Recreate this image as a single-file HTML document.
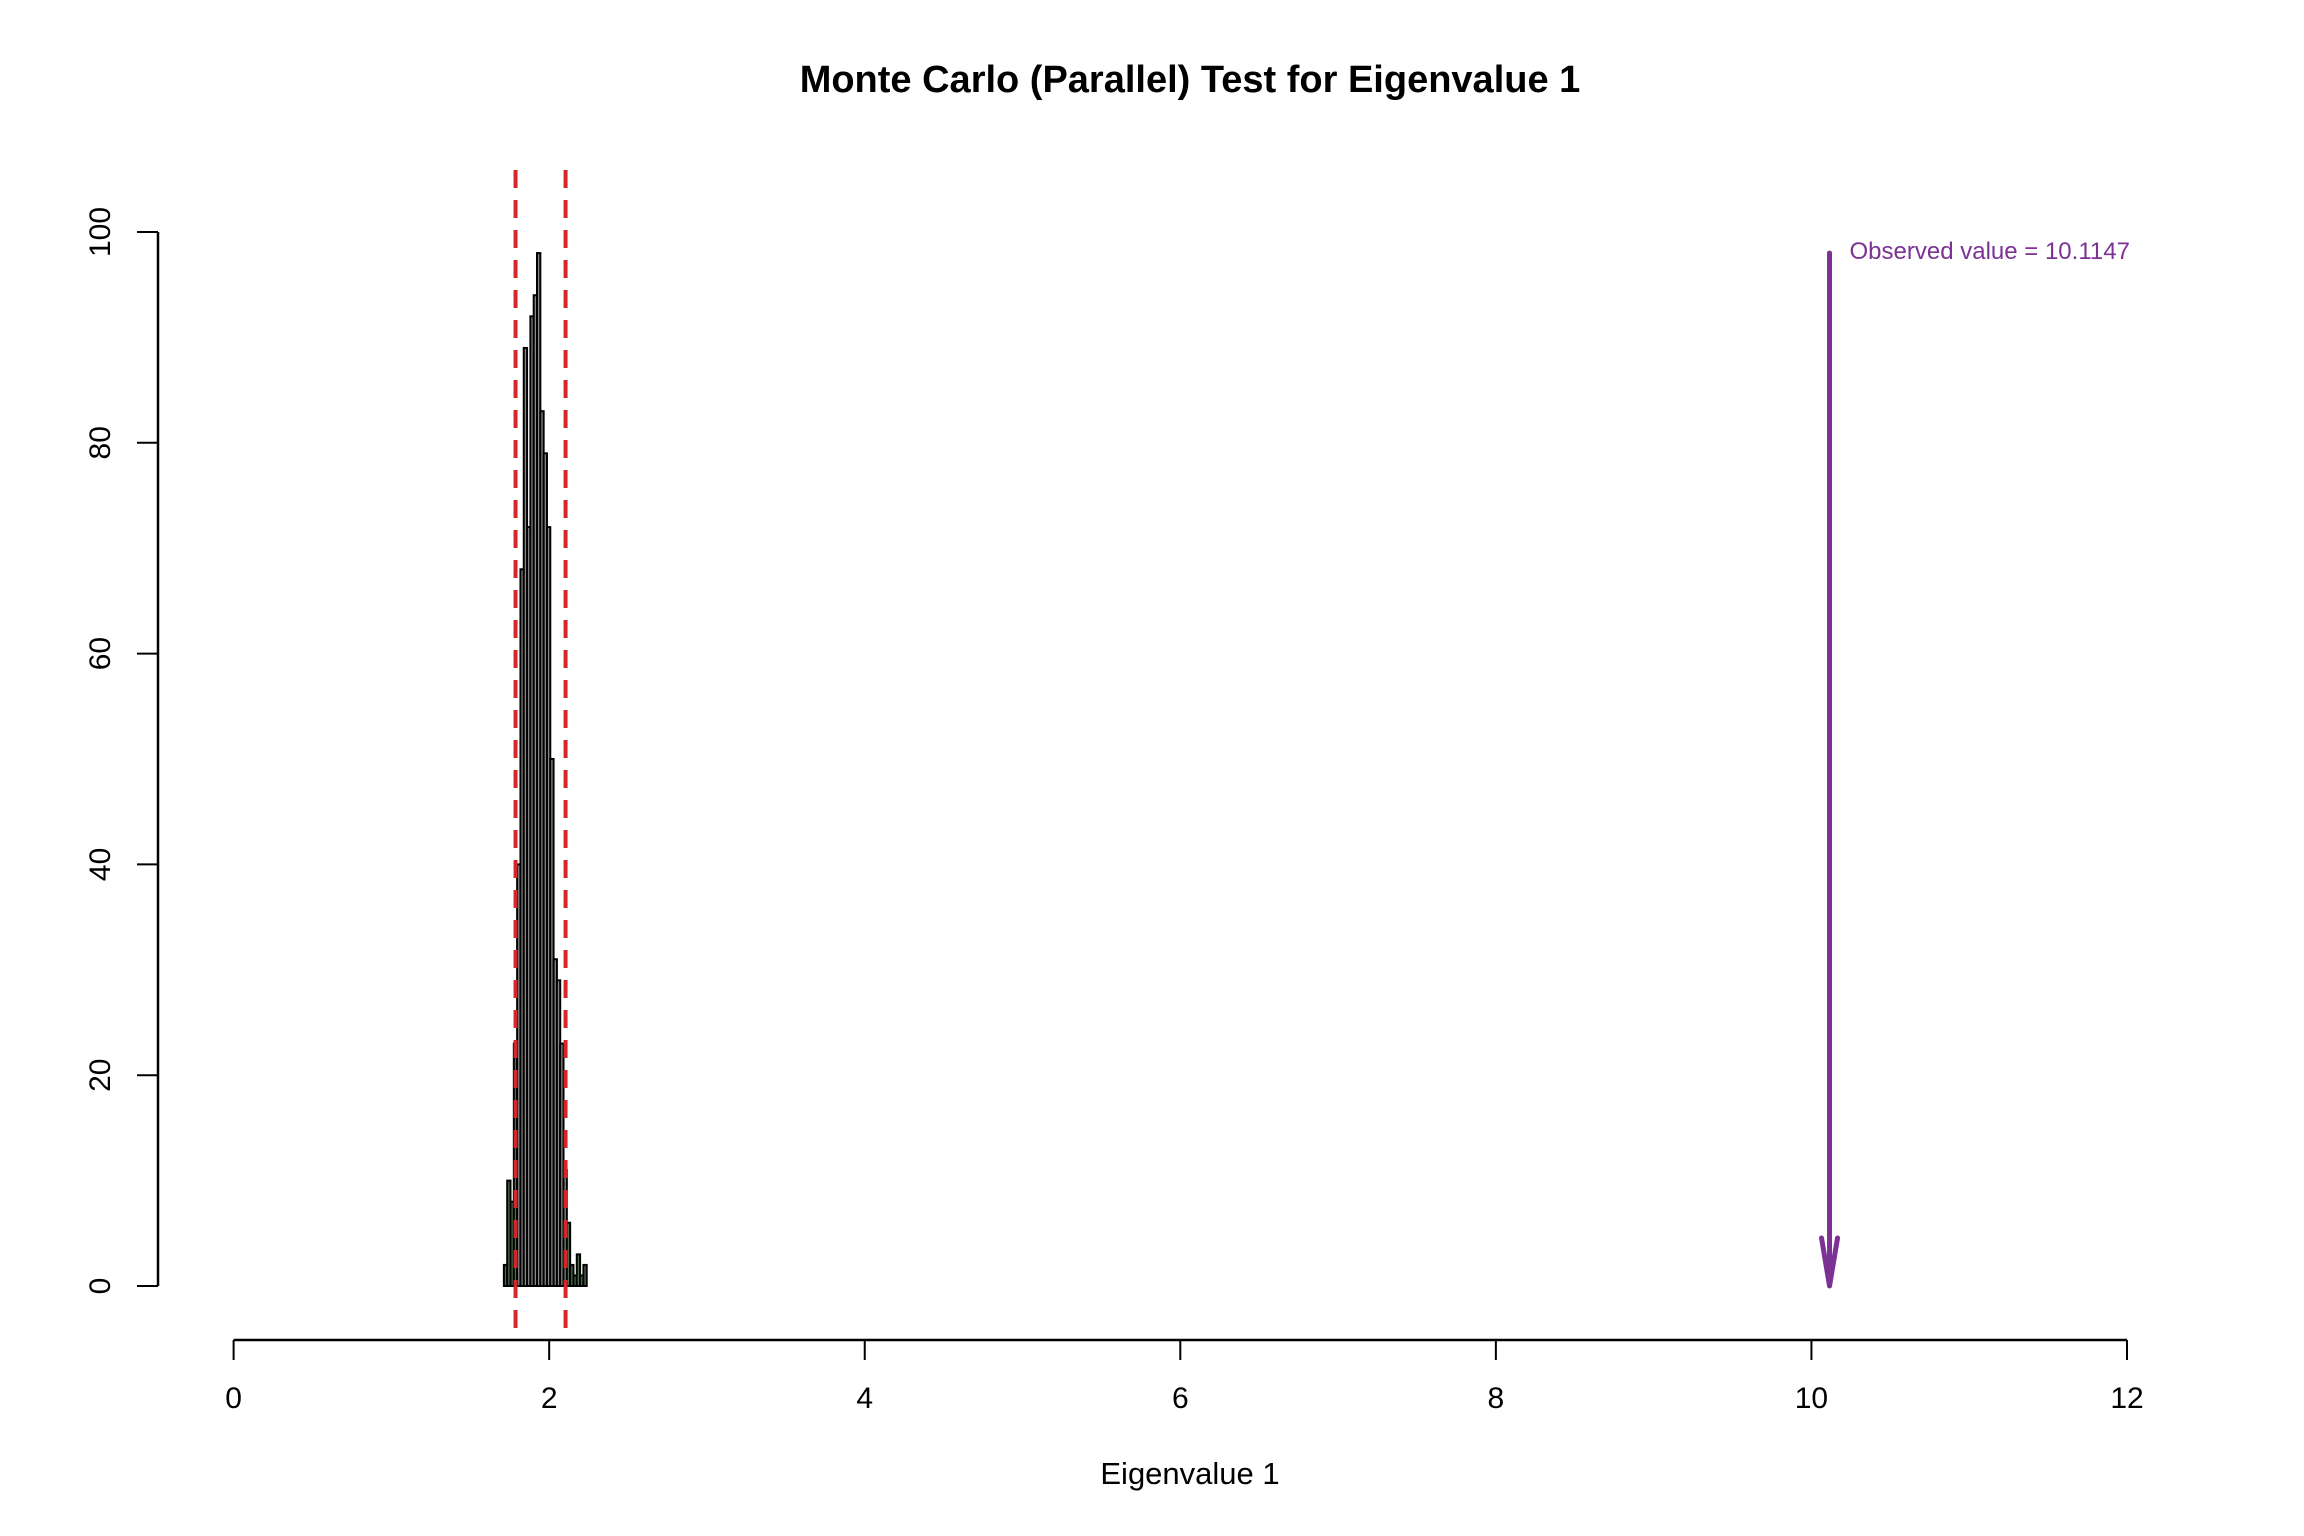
<!DOCTYPE html>
<html><head><meta charset="utf-8"><style>
html,body{margin:0;padding:0;background:#fff;}
svg{display:block;font-family:"Liberation Sans",Arial,sans-serif;}
</style></head><body>
<svg id="chart" width="2304" height="1536" viewBox="0 0 2304 1536" xmlns="http://www.w3.org/2000/svg">
<rect width="2304" height="1536" fill="#fff"/>
<text x="1190" y="92" text-anchor="middle" font-size="38" font-weight="bold">Monte Carlo (Parallel) Test for Eigenvalue 1</text>
<text x="1190" y="1484" text-anchor="middle" font-size="31">Eigenvalue 1</text>
<g id="xaxis"></g>
<g id="yaxis"></g>
<g id="bars"></g>
<g id="marks"></g>
</svg>
<script>
const binStart = 1.713;
const binWidth = 0.021;
const counts = [2,10,8,23,40,68,89,72,92,94,98,83,79,72,50,31,29,23,11,6,2,1,3,1,2];
const xTicks = [0,2,4,6,8,10,12];
const yTicks = [0,20,40,60,80,100];
const ciBounds = [1.787, 2.104];
const observed = 10.1147;

const NS = "http://www.w3.org/2000/svg";
const X0 = 233.6, X1 = 2127, Y0 = 1286, Y1 = 232;
function sx(v){ return X0 + (v/12)*(X1-X0); }
function sy(v){ return Y0 - (v/100)*(Y0-Y1); }
function mk(tag, attrs, parent){
  const e = document.createElementNS(NS, tag);
  for (const k in attrs) e.setAttribute(k, attrs[k]);
  parent.appendChild(e); return e;
}
const xa = document.getElementById('xaxis');
const ya = document.getElementById('yaxis');
const bars = document.getElementById('bars');
const marks = document.getElementById('marks');

const xl = mk('line', {x1:sx(0), x2:sx(12), y1:1340, y2:1340, stroke:'#000', 'stroke-width':2.5}, xa);


xTicks.forEach(t => {
  const tk = mk('line', {x1:sx(t), x2:sx(t), y1:1340, y2:1360, stroke:'#000', 'stroke-width':2}, xa);
  
  
  const lb = mk('text', {x:sx(t), y:1408, 'text-anchor':'middle', 'font-size':30}, xa);
  lb.textContent = t;
  
  
});
const yl = mk('line', {x1:158, x2:158, y1:sy(0), y2:sy(100), stroke:'#000', 'stroke-width':2.5}, ya);


yTicks.forEach(t => {
  const tk = mk('line', {x1:137, x2:158, y1:sy(t), y2:sy(t), stroke:'#000', 'stroke-width':2}, ya);
  
  
  const lb = mk('text', {x:0, y:0, 'text-anchor':'middle', 'font-size':30, transform:`translate(110,${sy(t)}) rotate(-90)`}, ya);
  lb.textContent = t;
  
  
});
counts.forEach((c,i) => {
  const a = binStart + i*binWidth, b = a + binWidth;
  const mid = (a+b)/2;
  const inside = mid >= ciBounds[0] && mid <= ciBounds[1];
  const r = mk('rect', {x:sx(a), y:sy(c), width:sx(b)-sx(a), height:sy(0)-sy(c),
    fill: inside ? '#8a8a8a' : '#4f6e4f', stroke:'#000', 'stroke-width':2}, bars);
  
  
});
ciBounds.forEach(v => {
  const l = mk('line', {x1:sx(v), x2:sx(v), y1:170, y2:1340, stroke:'#d7262b', 'stroke-width':4, 'stroke-dasharray':'18 12'}, marks);
  
  
});
const ax = sx(observed);
const pc = '#7b3294';
const ar = mk('line', {x1:ax, x2:ax, y1:sy(98), y2:sy(0), stroke:pc, 'stroke-width':5, 'stroke-linecap':'round'}, marks);


const ah = mk('path', {d:`M${ax-8},${sy(0)-48} L${ax},${sy(0)} L${ax+8},${sy(0)-48}`, fill:'none', stroke:pc, 'stroke-width':5, 'stroke-linecap':'round'}, marks);


const ot = mk('text', {x:ax+20, y:259, 'font-size':24, fill:pc}, marks);
ot.textContent = 'Observed value = ' + observed;


</script>
</body></html>
